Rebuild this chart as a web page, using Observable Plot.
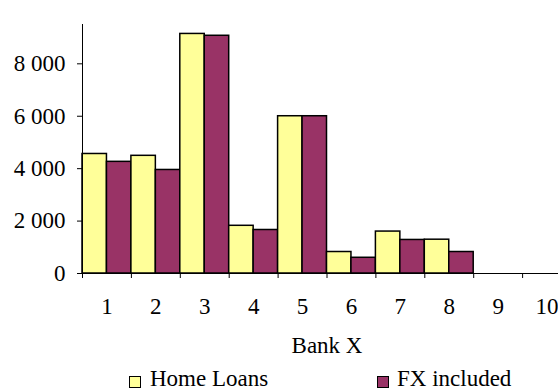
<!DOCTYPE html>
<html>
<head>
<meta charset="utf-8">
<script src="https://cdn.jsdelivr.net/npm/d3@7"></script>
<script src="https://cdn.jsdelivr.net/npm/@observablehq/plot@0.6"></script>
<style>
  html, body { margin: 0; padding: 0; background: #fff; overflow: hidden; }
  #chart { width: 558px; height: 390px; position: relative; }
  .legend { position: relative; height: 30px; font-family: "Liberation Serif", "Times New Roman", serif; font-size: 23px; color: #000; }
  .legend .sw { position: absolute; width: 10px; height: 10px; border: 1.5px solid #000; top: 16px; }
  .legend .lb { position: absolute; top: 8px; line-height: 22px; white-space: nowrap; }
</style>
</head>
<body>
<div id="chart"></div>
<script>
const banks = [1, 2, 3, 4, 5, 6, 7, 8, 9, 10];
const homeLoans = [4560, 4490, 9140, 1820, 6000, 820, 1600, 1290, null, null];
const fxIncluded = [4260, 3950, 9070, 1660, 6000, 600, 1280, 820, null, null];
const seriesNames = ["Home Loans", "FX included"];
const seriesColors = ["#FFFF99", "#993366"];
const yTicks = [0, 2000, 4000, 6000, 8000];
const xLabel = "Bank X";

const rows = [];
banks.forEach((b, i) => {
  if (homeLoans[i] != null) rows.push({bank: b, s: 0, value: homeLoans[i]});
  if (fxIncluded[i] != null) rows.push({bank: b, s: 1, value: fxIncluded[i]});
});

const fmt = d => d3.format(",")(d).replace(/,/g, "\u00a0");
const font = "'Liberation Serif', 'Times New Roman', serif";

const plot = Plot.plot({
  width: 558,
  height: 360,
  marginLeft: 82,
  marginRight: -13,
  marginTop: 24,
  marginBottom: 87,
  style: {fontFamily: font, fontSize: "23px", color: "#000", background: "#fff", overflow: "hidden"},
  x: {domain: [0.5, 10.5]},
  y: {domain: [0, 9500]},
  marks: [
    Plot.rectY(rows, {
      x1: d => d.bank - 0.5 + d.s * 0.5,
      x2: d => d.bank + d.s * 0.5,
      y1: 0,
      y2: "value",
      fill: d => seriesColors[d.s],
      stroke: "#000",
      strokeWidth: 1.5
    }),
    Plot.ruleY([0], {stroke: "#000", strokeWidth: 1}),
    Plot.frame({anchor: "left", stroke: "#000", strokeWidth: 1}),
    Plot.axisY({ticks: yTicks, tickFormat: fmt, tickSize: 5, tickPadding: 12, label: null, strokeWidth: 1, stroke: "#000", fontSize: 23}),
    Plot.axisX({ticks: banks.map(b => b - 0.5).concat([10.5]), tickFormat: () => "", tickSize: 5, label: null, stroke: "#000"}),
    Plot.axisX({ticks: banks, tickFormat: d => String(d), tickSize: 0, tickPadding: 24, label: xLabel, labelAnchor: "center", labelOffset: 79, labelArrow: "none", fontSize: 23})
  ]
});
document.getElementById("chart").appendChild(plot);

const legend = document.createElement("div");
legend.className = "legend";
const pos = [[129, 150], [377, 397]];
seriesNames.forEach((name, i) => {
  const sw = document.createElement("div");
  sw.className = "sw";
  sw.style.left = pos[i][0] + "px";
  sw.style.background = seriesColors[i];
  const lb = document.createElement("div");
  lb.className = "lb";
  lb.style.left = pos[i][1] + "px";
  lb.textContent = name;
  legend.appendChild(sw);
  legend.appendChild(lb);
});
document.getElementById("chart").appendChild(legend);
</script>
</body>
</html>
